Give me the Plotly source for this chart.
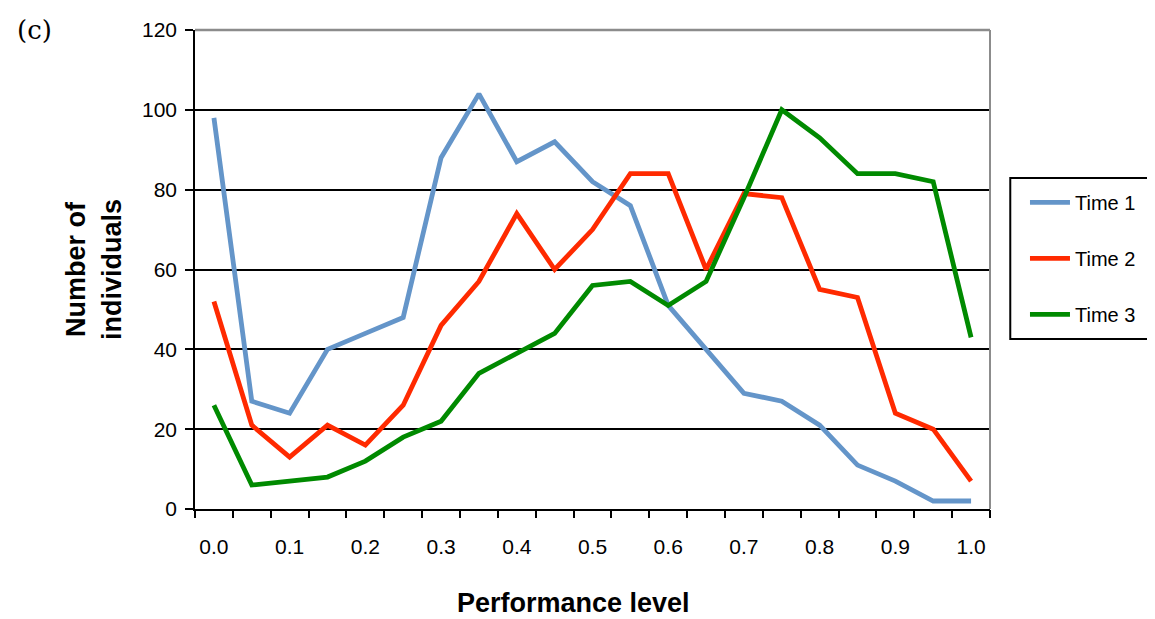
import plotly.graph_objects as go

categories = [f"{i*0.05:.2f}" for i in range(21)]
tick_labels = ["0.0", "0.1", "0.2", "0.3", "0.4", "0.5", "0.6", "0.7", "0.8", "0.9", "1.0"]

time1 = [98, 27, 24, 40, 44, 48, 88, 104, 87, 92, 82, 76, 51, 40, 29, 27, 21, 11, 7, 2, 2]
time2 = [52, 21, 13, 21, 16, 26, 46, 57, 74, 60, 70, 84, 84, 60, 79, 78, 55, 53, 24, 20, 7]
time3 = [26, 6, 7, 8, 12, 18, 22, 34, 39, 44, 56, 57, 51, 57, 78, 100, 93, 84, 84, 82, 43]

series = [("Time 1", time1, "#6495C9"), ("Time 2", time2, "#FF2A00"), ("Time 3", time3, "#008A00")]

idx = list(range(len(categories)))
fig = go.Figure()
for i, (name, vals, col) in enumerate(series):
    fig.add_trace(go.Scatter(x=idx, y=vals, mode="lines", name=name,
                             legendgroup=name,
                             line=dict(color=col, width=4.8)))

# invisible trace on overlay axis for boundary tick marks
fig.add_trace(go.Scatter(x=[-0.5, 20.5], y=[0, 0], xaxis="x2", mode="lines",
                         line=dict(width=0), showlegend=False, hoverinfo="skip"))

font = "Liberation Sans, Arial, sans-serif"
fig.update_layout(
    width=1155, height=619,
    margin=dict(l=187, r=173, t=22, b=118, autoexpand=False),
    paper_bgcolor="white", plot_bgcolor="white",
    font=dict(family=font, size=21, color="black"),
    showlegend=True,
    legend=dict(x=1.044, y=0.681, xanchor="left", yanchor="top",
                borderwidth=0, bgcolor="rgba(0,0,0,0)",
                font=dict(size=20, family=font, color="black"), tracegroupgap=27,
                itemwidth=40),
    xaxis=dict(range=[-0.5, 20.5], tickmode="array",
               tickvals=idx[::2], ticktext=tick_labels,
               tickfont=dict(size=21, family=font),
               showgrid=False, zeroline=False, showline=True,
               linecolor="black", linewidth=1.5, ticks="",
               ticklabelstandoff=18),
    xaxis2=dict(range=[-0.5, 20.5], overlaying="x", side="bottom",
                tickmode="array", tickvals=[i - 0.5 for i in range(22)],
                ticks="outside", ticklen=8, tickwidth=1.5, tickcolor="black",
                showticklabels=False, showgrid=False, zeroline=False,
                showline=False),
    yaxis=dict(range=[0, 120], dtick=20, tick0=0,
               tickfont=dict(size=21, family=font),
               showgrid=True, gridcolor="black", gridwidth=1.5,
               zeroline=False, showline=True, linecolor="black", linewidth=1.5,
               ticks="outside", ticklen=8, tickwidth=1.5, tickcolor="black",
               ticklabelstandoff=4,
               title=dict(text="<b>Number of<br>individuals</b>", font=dict(size=27, family=font),
                          standoff=13)),
    shapes=[
        dict(type="line", xref="paper", yref="paper", x0=0, x1=1, y0=1, y1=1,
             line=dict(color="#8C8C8C", width=2.5)),
        dict(type="line", xref="paper", yref="paper", x0=1, x1=1, y0=0, y1=1,
             line=dict(color="#8C8C8C", width=2)),
        dict(type="rect", xref="paper", yref="paper", x0=1.0255, x1=1.26,
             y0=0.355, y1=0.691, line=dict(color="black", width=2),
             fillcolor="rgba(0,0,0,0)", layer="below"),
    ],
    annotations=[
        dict(text="(c)", xref="paper", yref="paper", x=-0.227, y=1.0,
             xanchor="left", yanchor="middle", showarrow=False,
             font=dict(family="DejaVu Serif, Liberation Serif, serif", size=26)),
        dict(text="<b>Performance level</b>", xref="paper", yref="paper",
             x=0.476, y=-0.196, xanchor="center", yanchor="middle", showarrow=False,
             font=dict(family=font, size=27)),
    ],
)

fig.write_html("out.html")
